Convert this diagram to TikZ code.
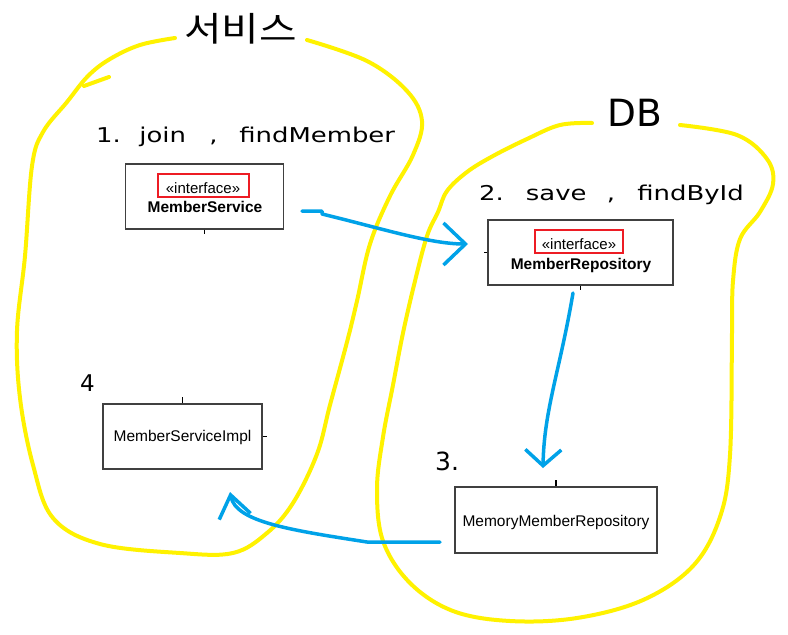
\documentclass[tikz,border=0pt]{standalone}
\usepackage{fontspec}
\setmainfont{Liberation Sans}
\newfontfamily\lblfont{DejaVu Sans}
\newfontfamily\krfont{Noto Sans CJK KR}
\usetikzlibrary{arrows.meta}
\definecolor{hlyellow}{HTML}{FFF200}
\definecolor{penblue}{HTML}{00A2E8}
\definecolor{markred}{HTML}{ED1C24}
\definecolor{boxgray}{HTML}{404040}
\newcommand{\steplbl}[1]{\scalebox{1.27}[1]{\lblfont\fontsize{20.4}{24}\selectfont #1}}

\begin{document}
\begin{tikzpicture}[x=1pt,y=-1pt,
  umlbox/.style={draw=boxgray,line width=1.4pt,inner sep=0pt,minimum height=65pt},
  stereo/.style={draw=markred,line width=2pt,inner xsep=2pt,inner ysep=1.5pt,
    text height=18pt,text depth=2pt,font=\fontsize{15}{18}\selectfont},
  cls/.style={inner sep=0pt,font=\fontsize{15.5}{18}\selectfont},
  pen/.style={penblue,line width=3.5pt,line cap=round,line join=round},
  hilite/.style={hlyellow,line width=4pt,line cap=round,line join=round},
  tick/.style={black,line width=1.5pt}]
\fill[white] (0,0) rectangle (788,635);
\useasboundingbox (0,0) rectangle (788,635);

% yellow outlines
\draw[hilite] plot[smooth,tension=0.6] coordinates {(175,38) (140,45) (110,59) (88,76) (67,102)
  (43,132) (32,166) (25,256) (17,331) (20,398) (33,465) (53,518) (100,544) (180,553)
  (233,553) (267,533) (293,503) (317,454) (330,405) (347,342) (357,301) (370,244)
  (390,196) (413,155) (422,121) (407,91) (367,61) (307,40)};
\draw[hilite] (84,86) -- (109,77);
\draw[hilite] plot[smooth,tension=0.6] coordinates {(592,123) (560,125) (527,139) (493,156)
  (467,172) (447,191) (438,212) (427,236) (415,281) (403,333) (393,385) (383,437)
  (377,489) (383,541) (410,583) (453,611) (510,621) (577,618) (643,600) (693,566)
  (720,517) (730,455) (732,333) (733,281) (740,239) (760,212) (773,184) (767,159)
  (737,135) (680,125)};

\node (svctitle) at (240.5,29) {\scalebox{1.2}[1]{\krfont\fontsize{34}{40}\selectfont 서비스}};
\node[inner sep=0pt] (dbtitle) at (635,113) {\lblfont\fontsize{37.5}{42}\selectfont DB};

\node[inner sep=0pt,anchor=base west] (step1) at (96,142) {\steplbl{1.\hspace{14.5pt}join\hspace{18.5pt},\hspace{17pt}findMember}};
\node[inner sep=0pt,anchor=base west] (step2) at (479,200) {\steplbl{2.\hspace{17.4pt}save\hspace{16pt},\hspace{17.4pt}findById}};
\node[inner sep=0pt,anchor=base west] (step3) at (435,470) {\lblfont\fontsize{25}{28}\selectfont 3.};
\node[inner sep=0pt] (step4) at (87.5,383) {\lblfont\fontsize{23}{26}\selectfont 4};

\begin{scope}[every node/.style={umlbox}]
\node[minimum width=158pt] (svc) at (204.5,196.5) {};
\node[minimum width=185pt] (repo) at (580.5,252.5) {};
\node[minimum width=159pt] (impl) at (182.5,436.5) {};
\node[minimum width=202pt,minimum height=66pt] (mem) at (556,520) {};
\end{scope}

\node[stereo,anchor=base,minimum width=91pt] (svcst) at (203,193.5) {«interface»};
\node[cls,anchor=base] (svcname) at (205,212.6) {\bfseries MemberService};
\node[stereo,anchor=base,minimum width=88pt] (repost) at (579,249) {«interface»};
\node[cls,anchor=base] (reponame) at (581,269) {\bfseries MemberRepository};
\node[cls,anchor=base] (implname) at (182.5,441.7) {MemberServiceImpl};
\node[cls,anchor=base] (memname) at (556,526.7) {MemoryMemberRepository};

\draw[tick] (svc.south) -- ++(0,4);
\draw[tick] (repo.west) -- ++(-3,0);
\draw[tick] (repo.south) -- ++(0,4);
\draw[tick] (impl.north) -- ++(0,-6);
\draw[tick] (impl.east) -- ++(4,0);
\draw[tick] (mem.north) -- ++(0,-6);

% blue hand-drawn arrows
\coordinate (s1) at (302,211);
\coordinate (t1) at (468,244);
\coordinate (s2) at (573,293);
\coordinate (t2) at (543,468);
\coordinate (s3) at (440,542);
\coordinate (t3) at (230,492);
\draw[pen,-{Straight Barb[length=22pt,width=42pt]}] (s1) -- ++(20,0) -- ++(0,3)
  .. controls (380,228) and (430,244) .. (t1);
\draw[pen,-{Straight Barb[length=16pt,width=36pt]}] (s2)
  .. controls (560,370) and (544,410) .. (t2);
\draw[pen,-{Straight Barb[length=22pt,width=32pt]}] (s3) -- (367,542)
  .. controls (290,530) and (236,522) .. (t3);
\end{tikzpicture}
\end{document}
